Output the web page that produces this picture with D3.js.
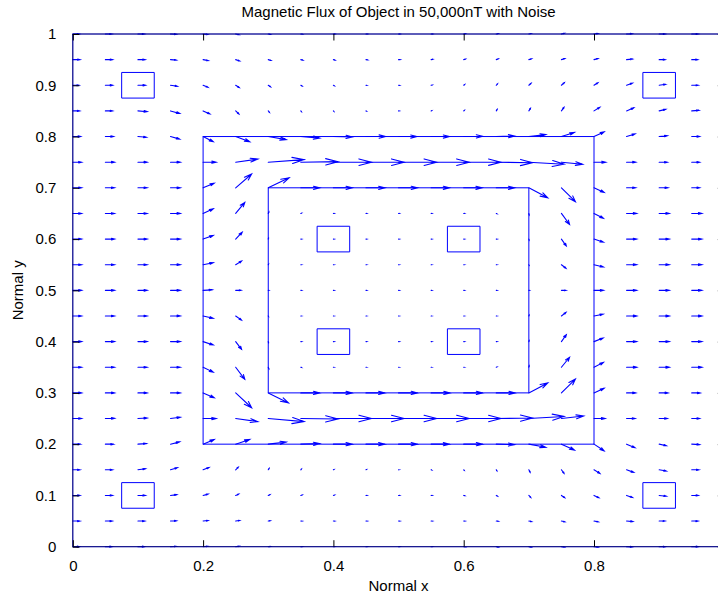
<!DOCTYPE html>
<html>
<head>
<meta charset="utf-8">
<script src="https://cdn.jsdelivr.net/npm/d3@7"></script>
<style>
  html, body { margin: 0; padding: 0; background: #fff; }
  svg { display: block; }
  text { font-family: "Liberation Sans", Arial, Helvetica, sans-serif; fill: #000; }
</style>
</head>
<body>
<div id="chart"></div>
<script>
// ---------------- data ----------------
const titleText = "Magnetic Flux of Object in 50,000nT with Noise";
const xLabelText = "Normal x";
const yLabelText = "Normal y";

const gridX = [0,0.05,0.1,0.15,0.2,0.25,0.3,0.35,0.4,0.45,0.5,0.55,0.6,0.65,0.7,0.75,0.8,0.85,0.9,0.95,1];
// rows listed from top (y = 1) to bottom (y = 0)
const gridY = [1,0.95,0.9,0.85,0.8,0.75,0.7,0.65,0.6,0.55,0.5,0.45,0.4,0.35,0.3,0.25,0.2,0.15,0.1,0.05,0];

// x-component of flux (drawn units, x0.01 data units)
const U = [
  [1.0,1.0,1.0,0.9,0.7,0.5,0.35,0.25,0.2,0.2,0.2,0.2,0.25,0.3,0.35,0.45,0.6,0.85,0.95,1.0,1.0],
  [1.1,1.1,1.1,0.9,0.8,0.6,0.4,0.3,0.25,0.25,0.25,0.25,0.25,0.3,0.4,0.5,0.6,0.9,0.9,0.9,1.0],
  [0.95,1.1,1.15,1.05,0.75,0.55,0.35,0.2,0.15,0.15,0.15,0.15,0.15,0.2,0.35,0.45,0.6,0.9,1.0,1.0,1.0],
  [1.05,1.1,1.4,1.4,1.05,0.5,0.2,0.1,0.08,0.08,0.08,0.08,0.1,0.15,0.25,0.4,0.9,1.1,1.0,1.1,1.1],
  [1.2,1.25,1.3,1.4,1.55,2.15,2.75,2.9,2.9,3.0,2.8,2.8,2.9,2.8,2.6,2.0,1.55,1.3,1.25,1.2,1.2],
  [1.35,1.4,1.4,1.5,2.0,3.4,5.5,5.7,5.85,5.85,5.85,5.85,5.7,5.55,5.4,3.25,1.8,1.4,1.25,1.2,1.2],
  [1.35,1.4,1.4,1.5,1.7,2.45,3.2,2.9,2.9,2.9,2.9,2.8,2.8,2.8,2.9,2.15,1.55,1.4,1.35,1.2,1.2],
  [1.35,1.4,1.4,1.5,1.55,1.4,0.1,0.1,0.1,0.1,0.1,0.1,0.1,0.1,0.05,1.25,1.45,1.55,1.55,1.55,1.55],
  [1.35,1.4,1.4,1.5,1.55,1.0,0.05,0.1,0.1,0.1,0.1,0.1,0.1,0.1,0.05,0.75,1.45,1.55,1.55,1.55,1.55],
  [1.35,1.4,1.4,1.5,1.55,0.9,0.05,0.1,0.1,0.1,0.1,0.1,0.1,0.1,0.05,0.7,1.45,1.55,1.55,1.55,1.55],
  [1.35,1.4,1.4,1.5,1.4,0.8,0.05,0.1,0.1,0.1,0.1,0.1,0.1,0.1,0.05,0.7,1.45,1.55,1.55,1.55,1.55],
  [1.35,1.4,1.4,1.5,1.55,0.9,0.05,0.1,0.1,0.1,0.1,0.1,0.1,0.1,0.05,0.7,1.4,1.55,1.55,1.55,1.55],
  [1.35,1.4,1.4,1.5,1.55,0.9,0.05,0.1,0.1,0.1,0.1,0.1,0.1,0.1,0.05,0.75,1.4,1.55,1.55,1.55,1.55],
  [1.35,1.4,1.4,1.5,1.55,1.4,0.1,0.1,0.1,0.1,0.1,0.1,0.1,0.1,0.05,1.25,1.45,1.55,1.55,1.55,1.55],
  [1.35,1.4,1.4,1.5,1.7,2.45,3.1,2.9,2.9,2.9,2.9,2.9,2.9,2.9,2.9,2.15,1.55,1.4,1.35,1.3,1.3],
  [1.35,1.4,1.4,1.5,2.0,3.4,5.5,5.7,5.85,5.85,5.85,5.85,5.7,5.55,5.4,3.4,1.7,1.3,1.25,1.2,1.2],
  [1.2,1.25,1.3,1.4,1.7,2.15,2.75,2.9,2.9,2.9,2.9,2.8,2.9,2.8,2.6,2.0,1.55,1.3,1.1,1.2,1.2],
  [1.1,1.1,1.15,1.05,0.9,0.4,0.15,0.1,0.08,0.08,0.08,0.08,0.08,0.1,0.2,0.4,0.9,1.1,1.1,1.1,1.1],
  [1.1,1.1,1.15,0.95,0.75,0.45,0.25,0.2,0.15,0.15,0.15,0.15,0.15,0.2,0.3,0.5,0.75,0.9,1.1,1.0,1.0],
  [1.1,1.05,1.05,0.9,0.75,0.6,0.3,0.2,0.2,0.2,0.2,0.2,0.2,0.3,0.4,0.5,0.65,0.95,0.9,0.95,1.0],
  [1.0,1.0,1.0,0.9,0.7,0.5,0.35,0.25,0.2,0.2,0.2,0.2,0.25,0.3,0.35,0.45,0.6,0.85,0.95,1.0,1.0]
];

// y-component of flux (drawn units, x0.01 data units)
const V = [
  [0,0,0,-0.05,-0.1,-0.15,-0.1,-0.05,0,0,0,0,0.05,0.1,0.1,0.15,0.1,0.05,0,0,0],
  [0,0,0,-0.1,-0.2,-0.25,-0.15,-0.1,-0.1,-0.05,0,0.05,0.1,0.15,0.15,0.2,0.2,0.1,0,0,0],
  [0,0,0,-0.2,-0.4,-0.45,-0.3,-0.15,-0.1,-0.05,0,0.05,0.15,0.3,0.4,0.5,0.5,0.4,0.2,0,0],
  [0,0,-0.15,-0.5,-0.6,-0.6,-0.3,-0.15,-0.1,-0.05,0,0.05,0.1,0.3,0.5,0.7,0.7,0.6,0.3,0.1,0],
  [0,0,-0.15,-0.5,-1.0,-1.0,-0.6,-0.3,-0.1,0,0,0,0.05,0.1,0.4,0.8,0.9,0.5,0.15,0,0],
  [0,0,0,0,0,0.6,0.5,0.1,0,0,0,0,0,-0.1,-0.4,-0.4,0,0,0,0,0],
  [0,0,0,0,0.9,2.7,1.95,0,0,0,0,0,0,0,-1.95,-2.7,-0.9,0,0,0,0],
  [0,0,0,0,0.9,2.15,0.3,0.05,0,0,0,0,0,-0.05,-0.3,-2.15,-0.95,0,0,0,0],
  [0,0,0,0,0.7,1.35,0.2,0,0,0,0,0,0,0,-0.2,-1.35,-0.6,0,0,0,0],
  [0,0,0,0,0.4,0.7,0.1,0,0,0,0,0,0,0,-0.1,-0.7,-0.45,0,0,0,0],
  [0,0,0,0,0.1,0,0,0,0,0,0,0,0,0,0,0,0,0,0,0,0],
  [0,0,0,0,-0.45,-0.8,-0.1,0,0,0,0,0,0,0,0.15,0.7,0.35,0,0,0,0],
  [0,0,0,0,-0.65,-1.5,-0.2,0,0,0,0,0,0,0,0.2,1.35,0.7,0,0,0,0],
  [0,0,0,0,-0.95,-2.35,-0.3,-0.05,0,0,0,0,0,0.05,0.3,1.95,0.95,0,0,0,0],
  [0,0,0,0,-0.95,-2.9,-1.95,0,0,0,0,0,0,0,1.95,2.7,0.9,0,0,0,0],
  [0,0.05,0.1,0.25,0,-0.6,-0.6,-0.1,0,0,0,0,0,0.1,0.4,0.5,0,0,0,0,0],
  [0,0,0.1,0.45,0.9,0.9,0.4,0.1,0,0,0,0,0,-0.1,-0.6,-1.15,-1.3,-0.7,-0.3,-0.1,0],
  [0,0,0.2,0.4,0.45,0.5,0.3,0.15,0.05,0.05,0,-0.05,-0.1,-0.2,-0.5,-0.7,-0.7,-0.5,-0.25,0,0],
  [0,0,0,0.15,0.25,0.25,0.15,0.1,0.05,0,0,0,-0.05,-0.15,-0.4,-0.45,-0.45,-0.4,-0.15,0,0],
  [0,0,0,0.05,0.1,0.1,0.05,0,0,0,0,0,0,-0.05,-0.1,-0.15,-0.15,-0.1,0,0,0],
  [0,0,0,0.05,0.1,0.1,0.05,0,0,0,0,0,-0.05,-0.1,-0.1,-0.1,-0.1,-0.05,0,0,0]
];

// object outline (x0, y0, x1, y1) and sensor boxes
const objectRects = [[0.2,0.2,0.8,0.8],[0.3,0.3,0.7,0.7]];
const domainRect = [0,0,1,1];
const sensorX = [0.1,0.9,0.1,0.9,0.4,0.6,0.4,0.6];
const sensorY = [0.9,0.9,0.1,0.1,0.6,0.6,0.4,0.4];
const sensorHalf = 0.025;

const xTicks = [0,0.2,0.4,0.6,0.8,1];
const xTickLabels = ["0","0.2","0.4","0.6","0.8",""];   // "1" falls outside the picture
const yTicks = [0,0.1,0.2,0.3,0.4,0.5,0.6,0.7,0.8,0.9,1];
const yTickLabels = ["0","0.1","0.2","0.3","0.4","0.5","0.6","0.7","0.8","0.9","1"];

// ---------------- drawing ----------------
const W = 718, H = 603;
const plot = { left: 72.8, right: 724.3, top: 34, bottom: 546.7 };
const quiverScale = 0.01;
const alpha = 0.33, beta = 0.33;
const BLUE = "#0000ff";
const FONT = 15;

const svg = d3.select("#chart").append("svg")
  .attr("width", W).attr("height", H)
  .attr("viewBox", `0 0 ${W} ${H}`);

svg.append("rect").attr("width", W).attr("height", H).attr("fill", "#fff");

const x = d3.scaleLinear().domain([0, 1]).range([plot.left, plot.right]);
const y = d3.scaleLinear().domain([0, 1]).range([plot.bottom, plot.top]);

const g = svg.append("g");

const rectPath = r => {
  const p = d3.path();
  p.moveTo(x(r[0]), y(r[1]));
  p.lineTo(x(r[2]), y(r[1]));
  p.lineTo(x(r[2]), y(r[3]));
  p.lineTo(x(r[0]), y(r[3]));
  p.closePath();
  return p.toString();
};

g.append("path").attr("d", rectPath(domainRect))
  .attr("fill", "none").attr("stroke", BLUE).attr("stroke-width", 1);

g.selectAll("path.obj").data(objectRects).join("path")
  .attr("class", "obj")
  .attr("d", rectPath)
  .attr("fill", "none").attr("stroke", BLUE).attr("stroke-width", 1);

g.selectAll("path.sensor").data(sensorX.map((sx, i) => [sx - sensorHalf, sensorY[i] - sensorHalf, sx + sensorHalf, sensorY[i] + sensorHalf]))
  .join("path")
  .attr("class", "sensor")
  .attr("d", rectPath)
  .attr("fill", "none").attr("stroke", BLUE).attr("stroke-width", 1);

// quiver arrows (MATLAB style)
const arrows = [];
gridY.forEach((yy, j) => {
  gridX.forEach((xx, i) => {
    arrows.push({ x0: xx, y0: yy, u: U[j][i] * quiverScale, v: V[j][i] * quiverScale });
  });
});

const arrowPath = d => {
  const { x0, y0, u, v } = d;
  const eps = 1e-12;
  const tx = x0 + u, ty = y0 + v;
  const h1x = tx - alpha * (u + beta * (v + eps));
  const h1y = ty - alpha * (v - beta * (u + eps));
  const h2x = tx - alpha * (u - beta * (v + eps));
  const h2y = ty - alpha * (v + beta * (u + eps));
  const p = d3.path();
  p.moveTo(x(x0), y(y0));
  p.lineTo(x(tx), y(ty));
  p.moveTo(x(h1x), y(h1y));
  p.lineTo(x(tx), y(ty));
  p.lineTo(x(h2x), y(h2y));
  return p.toString();
};

g.selectAll("path.arrow").data(arrows).join("path")
  .attr("class", "arrow")
  .attr("d", arrowPath)
  .attr("fill", "none")
  .attr("stroke", BLUE)
  .attr("stroke-width", 1.1)
  .attr("stroke-linecap", "round");

// axes box with inward ticks
const tickLen = 6.5;
const axG = svg.append("g").attr("stroke", "#000").attr("stroke-width", 1).attr("fill", "none");
axG.append("rect")
  .attr("x", plot.left).attr("y", plot.top)
  .attr("width", plot.right - plot.left).attr("height", plot.bottom - plot.top)
  .attr("stroke-opacity", 0.55);

const xAxisB = d3.axisBottom(x).tickValues(xTicks).tickSize(-tickLen).tickSizeOuter(0).tickPadding(14)
  .tickFormat((d, i) => xTickLabels[i]);
const xAxisT = d3.axisTop(x).tickValues(xTicks).tickSize(-tickLen).tickSizeOuter(0).tickFormat("");
const yAxisL = d3.axisLeft(y).tickValues(yTicks).tickSize(-tickLen).tickSizeOuter(0).tickPadding(16.5)
  .tickFormat((d, i) => yTickLabels[i]);
const yAxisR = d3.axisRight(y).tickValues(yTicks).tickSize(-tickLen).tickSizeOuter(0).tickFormat("");

function styleAxis(sel) {
  sel.select(".domain").remove();
  sel.selectAll(".tick line").attr("stroke", "#000");
  sel.selectAll(".tick text")
    .attr("font-family", '"Liberation Sans", Arial, Helvetica, sans-serif')
    .attr("font-size", FONT).attr("fill", "#000");
}

svg.append("g").attr("transform", `translate(0,${plot.bottom})`).call(xAxisB).call(styleAxis);
svg.append("g").attr("transform", `translate(0,${plot.top})`).call(xAxisT).call(styleAxis);
svg.append("g").attr("transform", `translate(${plot.left},0)`).call(yAxisL).call(styleAxis);
svg.append("g").attr("transform", `translate(${plot.right},0)`).call(yAxisR).call(styleAxis);

// title & labels
const cx = (plot.left + plot.right) / 2;
svg.append("text").attr("x", cx).attr("y", 17)
  .attr("text-anchor", "middle").attr("font-size", FONT).text(titleText);
svg.append("text").attr("x", cx).attr("y", 591)
  .attr("text-anchor", "middle").attr("font-size", FONT).text(xLabelText);
svg.append("text")
  .attr("transform", `translate(23,${(plot.top + plot.bottom) / 2}) rotate(-90)`)
  .attr("text-anchor", "middle").attr("font-size", FONT).text(yLabelText);
</script>
</body>
</html>
